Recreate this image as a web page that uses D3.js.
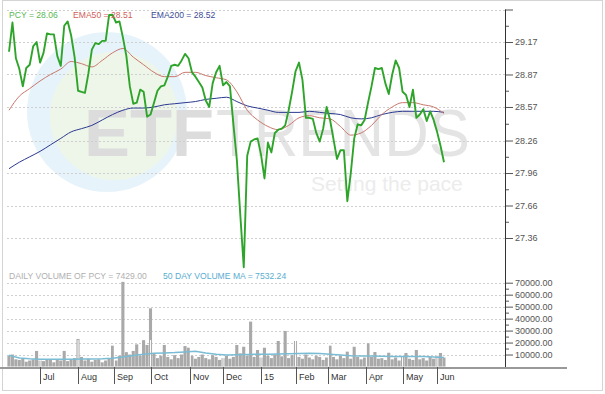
<!DOCTYPE html>
<html>
<head>
<meta charset="utf-8">
<script src="https://cdn.jsdelivr.net/npm/d3@7/dist/d3.min.js"></script>
<style>
body { margin: 0; background: #fff; }
svg { display: block; font-family: "Liberation Sans", Arial, sans-serif; }
</style>
</head>
<body>
<svg id="chart" width="605" height="394"></svg>
<script>
// closes every 2nd session, Jun 5 2014 .. Jun 5 2015
var price = [29.08,29.35,29.02,28.92,28.76,28.93,28.96,29.13,29.17,28.98,
  29.07,29.25,29.24,29.24,29.04,28.95,29.32,29.36,29.23,29.03,
  28.72,28.71,28.70,28.88,29.10,29.16,29.15,29.18,29.18,29.42,
  29.42,29.35,29.36,29.21,29.04,28.76,28.60,28.61,28.73,28.71,
  28.48,28.50,28.61,28.72,28.76,28.77,28.85,28.95,28.96,28.95,
  29.00,29.06,29.02,28.89,28.85,28.80,28.75,28.63,28.57,28.79,
  28.89,28.95,28.77,28.80,28.76,28.41,28.08,27.57,27.09,28.12,
  28.25,28.27,28.28,28.13,27.91,28.24,28.15,28.33,28.36,28.37,
  28.40,28.54,28.71,28.90,28.98,28.82,28.47,28.47,28.46,28.33,
  28.25,28.37,28.57,28.45,28.27,28.09,28.17,28.17,27.70,27.96,
  28.28,28.41,28.40,28.45,28.61,28.76,28.93,28.92,28.93,28.79,
  28.69,28.87,29.00,28.93,28.71,28.68,28.57,28.73,28.47,28.50,
  28.55,28.44,28.53,28.45,28.34,28.21,28.06];
// moving averages every 6th session
var ema50 = [28.54,28.67,28.74,28.81,28.87,28.92,28.99,28.97,28.94,29.00,
  29.07,29.11,29.03,28.96,28.89,28.85,28.85,28.89,28.89,28.86,
  28.84,28.82,28.71,28.54,28.45,28.39,28.36,28.40,28.47,28.49,
  28.47,28.46,28.39,28.31,28.33,28.40,28.50,28.57,28.61,28.61,
  28.59,28.57,28.51];
var ema200 = [28.00,28.06,28.11,28.16,28.22,28.28,28.34,28.37,28.40,28.45,
  28.50,28.54,28.56,28.56,28.57,28.59,28.60,28.61,28.62,28.64,
  28.65,28.66,28.62,28.58,28.56,28.54,28.52,28.52,28.52,28.53,
  28.52,28.51,28.50,28.47,28.46,28.47,28.50,28.52,28.53,28.53,
  28.53,28.53,28.52];
var volume = [9000,10000,6000,5500,6500,4000,5000,6000,13000,5000,
  4500,6000,5500,3500,6000,5000,13000,4500,6000,7000,
  23000,8000,5000,6500,4000,5500,6000,3500,5000,6500,
  17400,5000,9000,70700,12000,10000,13000,18500,9000,22000,
  18000,48600,11000,7000,9000,18000,8000,6000,9500,7000,
  10000,17100,15700,9000,6500,8000,10000,7000,6000,9500,
  8000,5500,7000,9000,6500,8000,18000,11000,16500,9000,
  37500,8000,13800,7500,15700,9000,7000,10000,21300,8500,
  29700,7000,9500,21300,8000,6500,10000,7500,6000,9000,
  8000,5500,7500,17400,8000,6000,9000,7000,12400,6500,
  16500,8000,6000,7500,19400,8000,12100,6500,7000,5500,
  11500,6000,7500,5000,8000,11300,6500,5500,13800,6000,
  7000,5000,8000,6500,9000,11300,7429];
var volumeMA = [9400,7100,6400,6100,6000,6000,6100,6300,6300,6500,
  6900,7900,9200,10200,11100,11300,11600,12100,12700,11300,
  10200,9600,9800,10100,10200,10200,10400,10600,10900,11000,
  10900,10300,9600,8900,8800,8800,8600,8400,8400,8400,
  8300,7900,7532];
var monthSessions = [18,40,61,82,105,124,146,166,185,207,228,248];
var monthLabels = ["Jul","Aug","Sep","Oct","Nov","Dec","15","Feb","Mar","Apr","May","Jun"];
var priceTicks = [29.47,29.17,28.87,28.57,28.26,27.96,27.66,27.36];
var priceMinor = [29.32,29.02,28.72,28.415,28.11,27.81,27.51];
var volumeTicks = [10000,20000,30000,40000,50000,60000,70000];
var volumeMinor = [15000,25000,35000,45000,55000,65000];

var svg = d3.select("#chart");
var x = d3.scaleLinear().domain([0,252]).range([9,444]);
var y = d3.scaleLinear().domain([27.36,29.17]).range([238,42]);
var yv = d3.scaleLinear().domain([0,70000]).range([366.5,282.7]);
var axisX = 505;

svg.append("rect").attr("x",2.5).attr("y",0.5).attr("width",600).attr("height",390)
  .attr("fill","#fff").attr("stroke","#d4d4d4");

// watermark
svg.append("circle").attr("cx",107).attr("cy",112).attr("r",80).attr("fill","#e7f3fa");
svg.append("circle").attr("cx",114).attr("cy",116).attr("r",64).attr("fill","#eef6e9");
svg.append("text").attr("x",84).attr("y",156).attr("font-size",66).attr("font-weight","bold")
  .attr("fill","#dcdcdc").attr("textLength",130).attr("lengthAdjust","spacingAndGlyphs").text("ETF");
svg.append("text").attr("x",216).attr("y",156).attr("font-size",66)
  .attr("fill","#e4e4e4").attr("textLength",254).attr("lengthAdjust","spacingAndGlyphs").text("TRENDS");
svg.append("text").attr("x",311).attr("y",191).attr("font-size",21)
  .attr("fill","#ececec").text("Setting the pace");

// grid
svg.selectAll(".pgrid").data(priceTicks).enter().append("line")
  .attr("x1",7).attr("x2",axisX).attr("y1",function(d){return Math.round(y(d))+0.5}).attr("y2",function(d){return Math.round(y(d))+0.5})
  .attr("stroke","#cfcfcf").attr("stroke-dasharray","2,2");
svg.selectAll(".vgrid").data(volumeTicks).enter().append("line")
  .attr("x1",7).attr("x2",axisX).attr("y1",function(d){return Math.round(yv(d))+0.5}).attr("y2",function(d){return Math.round(yv(d))+0.5})
  .attr("stroke","#cfcfcf").attr("stroke-dasharray","2,2");

// volume
svg.selectAll(".vbar").data(volume).enter().append("rect")
  .attr("x",function(d,i){return x(i*2)-1.6}).attr("width",3.1)
  .attr("y",function(d){return yv(d)}).attr("height",function(d){return yv(0)-yv(d)})
  .attr("fill","#a9a9a9");
svg.selectAll(".msep").data(monthSessions).enter().append("line")
  .attr("x1",function(d){return x(d)}).attr("x2",function(d){return x(d)})
  .attr("y1",340).attr("y2",yv(0)).attr("stroke","#fff").attr("stroke-width",1);
svg.append("path").datum(volumeMA)
  .attr("d",d3.line().x(function(d,i){return x(i*6)}).y(function(d){return yv(d)}))
  .attr("fill","none").attr("stroke","#79bcd4").attr("stroke-width",1.5);

// price lines
svg.append("path").datum(ema200)
  .attr("d",d3.line().x(function(d,i){return x(i*6)}).y(function(d){return y(d)}).curve(d3.curveMonotoneX))
  .attr("fill","none").attr("stroke","#2b3990").attr("stroke-width",1);
svg.append("path").datum(ema50)
  .attr("d",d3.line().x(function(d,i){return x(i*6)}).y(function(d){return y(d)}).curve(d3.curveMonotoneX))
  .attr("fill","none").attr("stroke","#c9776d").attr("stroke-width",1);
svg.append("path").datum(price)
  .attr("d",d3.line().x(function(d,i){return x(i*2)}).y(function(d){return y(d)}))
  .attr("fill","none").attr("stroke","#2ea52a").attr("stroke-width",1.9).attr("stroke-linejoin","round");

// right axis
var gp = svg.append("g").attr("transform","translate("+axisX+",0)")
  .call(d3.axisRight(y).tickValues(priceTicks).tickSize(8).tickPadding(2)
    .tickFormat(function(d){return d==29.47 ? "" : d.toFixed(2)}));
var gpm = svg.append("g").attr("transform","translate("+axisX+",0)")
  .call(d3.axisRight(y).tickValues(priceMinor).tickSize(4).tickFormat(""));
var gv = svg.append("g").attr("transform","translate("+axisX+",0)")
  .call(d3.axisRight(yv).tickValues(volumeTicks).tickSize(8).tickPadding(2)
    .tickFormat(function(d){return d.toFixed(2)}));
var gvm = svg.append("g").attr("transform","translate("+axisX+",0)")
  .call(d3.axisRight(yv).tickValues(volumeMinor).tickSize(4).tickFormat(""));
[gp,gpm,gv,gvm].forEach(function(g){
  g.select(".domain").remove();
  g.selectAll("line").attr("stroke","#555");
  g.selectAll("text").attr("font-size",9).attr("fill","#555").attr("font-family","Liberation Sans, Arial, sans-serif");
});
svg.append("line").attr("x1",axisX+0.5).attr("x2",axisX+0.5).attr("y1",y(29.47)).attr("y2",368)
  .attr("stroke","#333").attr("stroke-width",1);

// bottom axis
svg.append("line").attr("x1",0).attr("x2",567).attr("y1",368).attr("y2",368)
  .attr("stroke","#999").attr("stroke-width",2);
svg.selectAll(".mtick").data(monthSessions).enter().append("line")
  .attr("x1",function(d){return Math.round(x(d))+0.5}).attr("x2",function(d){return Math.round(x(d))+0.5})
  .attr("y1",367).attr("y2",384).attr("stroke","#555");
svg.selectAll(".mlabel").data(monthLabels).enter().append("text")
  .attr("x",function(d,i){return Math.round(x(monthSessions[i]))+3}).attr("y",380)
  .attr("font-size",9).attr("fill","#333").text(function(d){return d});

// legends
var leg = [["PCY = 28.06","#58b754",9],["EMA50 = 28.51","#d0605a",73],["EMA200 = 28.52","#3c4a96",151]];
svg.selectAll(".leg").data(leg).enter().append("text")
  .attr("x",function(d){return d[2]}).attr("y",18).attr("font-size",8.6)
  .attr("fill",function(d){return d[1]}).text(function(d){return d[0]});
svg.append("text").attr("x",9).attr("y",279).attr("font-size",8.6).attr("fill","#b0b0b0")
  .text("DAILY VOLUME OF PCY = 7429.00");
svg.append("text").attr("x",163).attr("y",279).attr("font-size",8.6).attr("fill","#5aadd0")
  .text("50 DAY VOLUME MA = 7532.24");
</script>
</body>
</html>
